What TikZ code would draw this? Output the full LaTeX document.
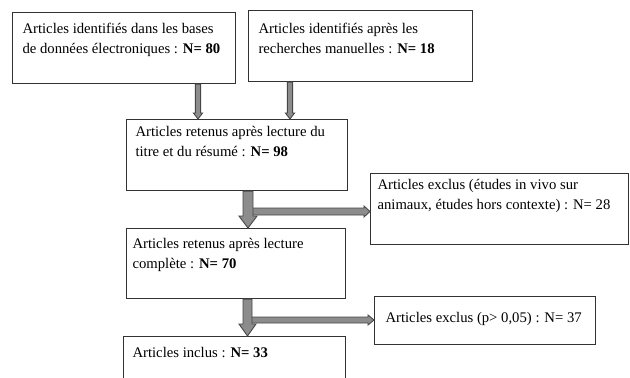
\documentclass[tikz,border=0pt]{standalone}
\usepackage{fontspec}
\setmainfont{Liberation Serif}
\usetikzlibrary{calc}
\tikzset{
  box/.style={draw=black!80, line width=1.1pt, inner sep=0pt, anchor=north west, fill=white,
    font=\fontsize{14.7}{19.5}\selectfont},
  blockarrow/.style={fill=black!45, draw=black!72, line width=0.9pt, line join=miter}
}
% #1 width, #2 height, #3 left inset, #4 first baseline below top, #5 text
\newcommand{\bxtext}[5]{\hbox to #1pt{\hspace*{#3pt}\parbox[b][#2pt][t]{\dimexpr#1pt-#3pt\relax}{\raggedright\rule{0pt}{#4pt}#5}\hss}}
% vertical block arrow: start (top), end (tip), shaft half width, head half width, head length
\newcommand{\vblock}[5]{%
  \filldraw[blockarrow] ($#1+(-#3,0)$) -- ($#2+(-#3,-#5)$) -- ($#2+(-#4,-#5)$) -- #2
    -- ($#2+(#4,-#5)$) -- ($#2+(#3,-#5)$) -- ($#1+(#3,0)$) -- cycle;}
% horizontal block arrow: start (left), end (tip)
\newcommand{\hblock}[5]{%
  \filldraw[blockarrow] ($#1+(0,-#3)$) -- ($#2+(-#5,-#3)$) -- ($#2+(-#5,-#4)$) -- #2
    -- ($#2+(-#5,#4)$) -- ($#2+(-#5,#3)$) -- ($#1+(0,#3)$) -- cycle;}
\begin{document}
\begin{tikzpicture}[x=1pt,y=-1pt]
\clip (0,0) rectangle (630,378);
\fill[white] (0,0) rectangle (630,378);

\node[box] (b1) at (12,12) {\bxtext{223}{71}{10}{21}{Articles identifiés dans les bases\\de données électroniques : \textbf{N= 80}}};
\node[box] (b2) at (248,10) {\bxtext{224}{71}{10}{23}{Articles identifiés après les\\recherches manuelles : \textbf{N= 18}}};
\node[box] (b3) at (126,119) {\bxtext{221}{71}{9}{17}{Articles retenus après lecture du\\titre et du résumé : \textbf{N= 98}}};
\node[box] (e1) at (370,173) {\bxtext{258}{71}{7}{16}{Articles exclus (études in vivo sur\\animaux, études hors contexte) : N= 28}};
\node[box] (b4) at (126,228) {\bxtext{219}{70}{6}{20}{Articles retenus après lecture\\complète : \textbf{N= 70}}};
\node[box] (e2) at (374,296) {\bxtext{221}{48}{11}{26}{Articles exclus (p> 0,05) : N= 37}};
\node[box] (b5) at (123,336) {\bxtext{222}{70}{9}{21}{Articles inclus : \textbf{N= 33}}};

\coordinate (x1) at (198,0);
\coordinate (x2) at (290,0);
\coordinate (x3) at (248,0);
\coordinate (x4) at (247.5,0);
\coordinate (h1) at (251,211.5);
\coordinate (h2) at (251,320);

\vblock{(x1 |- b1.south)}{(x1 |- b3.north)}{2.6}{4.6}{6}
\vblock{(x2 |- b2.south)}{(x2 |- b3.north)}{2.6}{4.6}{6}

\hblock{(h1)}{(h1 -| e1.west)}{3.5}{5.5}{6}
\hblock{(h2)}{(h2 -| e2.west)}{3}{5}{6}

\vblock{(x3 |- b3.south)}{(x3 |- b4.north)}{5}{9}{12}
\vblock{(x4 |- b4.south)}{(x4 |- b5.north)}{4.5}{8.5}{12}
\end{tikzpicture}
\end{document}
